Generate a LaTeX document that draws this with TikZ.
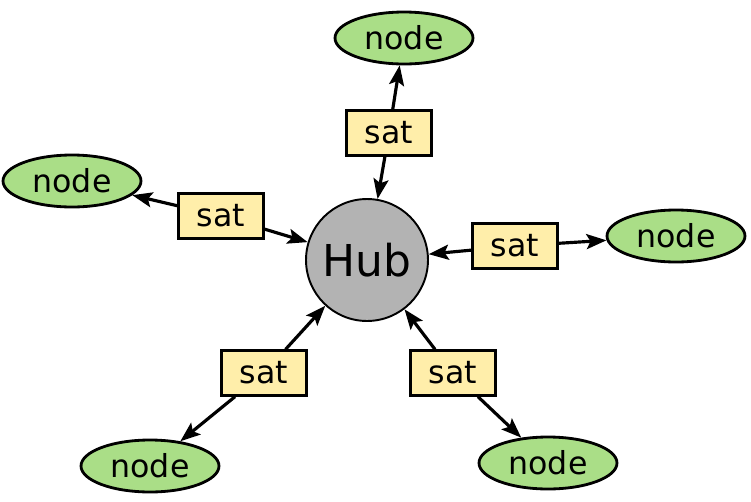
\documentclass[tikz,border=0pt]{standalone}
\usepackage{fontspec}
\setmainfont{DejaVu Sans}
\usepackage{tikz}
\usetikzlibrary{shapes.geometric, arrows.meta}
\definecolor{vertdoux}{RGB}{170, 222, 135}
\definecolor{jaunedoux}{RGB}{255, 238, 170}
\definecolor{grismoyen}{RGB}{179, 179, 179}

\begin{document}
\begin{tikzpicture}[x=0.02cm, y=-0.02cm, font=\fontsize{18}{20}\selectfont,
    hub/.style={circle, draw, line width=1.1pt, fill=grismoyen, minimum size=2.44cm, inner sep=0pt, font=\fontsize{25}{28}\selectfont},
    feuille/.style={ellipse, draw, line width=1.6pt, fill=vertdoux, minimum width=2.76cm, minimum height=1.04cm, inner sep=0pt},
    relais/.style={rectangle, draw, line width=1.3pt, fill=jaunedoux, minimum width=1.7cm, minimum height=0.9cm, inner sep=0pt},
    fleche/.style={-{Stealth[length=0.4cm, width=0.3cm, inset=0.08cm]}, line width=1.8pt}]
    \useasboundingbox (0,0) rectangle (751,501);
    % centre
    \node[hub] (hub) at (367,260) {Hub};
    % relais sat
    \node[relais] (s1) at (389,133) {sat};
    \node[relais] (s2) at (221,216) {sat};
    \node[relais] (s3) at (515,246) {sat};
    \node[relais] (s4) at (264,373) {sat};
    \node[relais] (s5) at (453,373) {sat};
    % noeuds externes
    \node[feuille] (n1) at (404,38) {node};
    \node[feuille] (n2) at (72,181) {node};
    \node[feuille] (n3) at (676,236) {node};
    \node[feuille] (n4) at (150,466) {node};
    \node[feuille] (n5) at (548,463) {node};
    % liaisons
    \foreach \i in {1,...,5} {
      \draw[fleche] (s\i) -- (hub);
      \draw[fleche] (s\i) -- (n\i);
    }
  \end{tikzpicture}
\end{document}
